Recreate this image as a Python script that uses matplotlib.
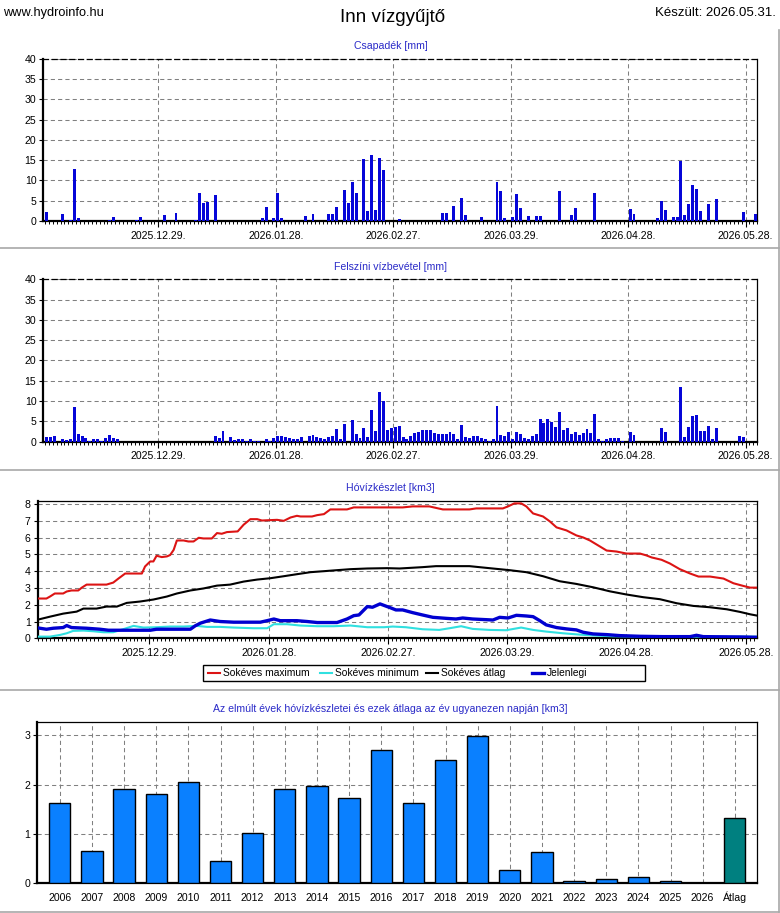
import matplotlib
matplotlib.use('Agg')
import matplotlib.pyplot as plt
import matplotlib.dates as mdates
import numpy as np
from matplotlib.ticker import FixedLocator, MultipleLocator
from matplotlib.patches import Rectangle

plt.rcParams['font.family'] = ['Liberation Sans', 'DejaVu Sans']

# ---------------- data ----------------
bar_start = '2025-11-30'   # first daily bar
precip = [
    2.2, 0, 0, 0, 1.7, 0, 0.2, 12.8, 0.7, 0,
    0, 0, 0, 0, 0, 0, 0.2, 1.0, 0, 0,
    0, 0, 0, 0.2, 1.0, 0, 0, 0, 0, 0,
    1.5, 0, 0, 2.0, 0, 0, 0, 0, 0.2, 6.9,
    4.4, 4.8, 0, 6.4, 0, 0, 0, 0, 0, 0,
    0, 0, 0, 0, 0, 0.7, 3.5, 0, 0.7, 6.9,
    0.7, 0, 0, 0, 0, 0, 1.2, 0, 1.7, 0,
    0, 0, 1.7, 1.7, 3.5, 0, 7.6, 4.4, 9.6, 6.9,
    0, 15.3, 2.5, 16.3, 2.7, 15.5, 12.6, 0, 0, 0,
    0.6, 0, 0, 0, 0, 0, 0, 0, 0, 0,
    0, 2.0, 2.0, 0, 3.7, 0, 5.7, 1.5, 0, 0,
    0, 1.0, 0, 0, 0, 9.6, 7.4, 0.7, 0, 1.0,
    6.7, 3.2, 0, 1.2, 0, 1.2, 1.2, 0, 0, 0,
    0, 7.4, 0, 0, 1.5, 3.2, 0, 0, 0, 0,
    6.9, 0, 0, 0, 0, 0, 0, 0, 0, 3.0,
    1.7, 0, 0, 0, 0, 0, 0.7, 4.9, 2.7, 0,
    1.0, 1.0, 14.8, 1.5, 4.2, 8.9, 7.9, 2.5, 0, 4.2,
    0, 5.4, 0, 0, 0, 0, 0, 0, 2.2, 0,
    0, 1.7,
]
runoff = [
    1.15, 1.15, 1.4, 0, 0.65, 0.4, 0.65, 8.5, 1.9, 1.4,
    0.9, 0.2, 0.65, 0.65, 0.2, 0.9, 1.6, 0.9, 0.65, 0,
    0, 0, 0, 0, 0, 0, 0, 0, 0, 0,
    0, 0, 0, 0, 0, 0, 0, 0, 0, 0,
    0, 0, 0, 1.4, 0.9, 2.6, 0, 1.15, 0.3, 0.65,
    0.65, 0.2, 0.65, 0.2, 0.2, 0, 0.65, 0.2, 0.9, 1.4,
    1.4, 1.15, 0.9, 0.65, 0.65, 1.15, 0, 1.4, 1.6, 1.15,
    0.9, 0.65, 1.15, 1.4, 3.1, 0.65, 4.35, 0, 5.3, 1.9,
    0.9, 3.4, 1.15, 7.8, 2.6, 12.2, 10.0, 2.9, 3.4, 3.6,
    3.9, 1.15, 0.65, 1.4, 2.1, 2.4, 2.9, 2.9, 2.9, 2.1,
    1.9, 1.9, 1.9, 2.4, 1.9, 0.65, 4.1, 1.15, 0.9, 1.4,
    1.4, 0.9, 0.65, 0.2, 0.65, 8.8, 1.6, 1.4, 2.4, 0.65,
    2.4, 1.9, 0.9, 0.65, 1.4, 1.9, 5.6, 4.6, 5.6, 4.85,
    3.6, 7.3, 2.9, 3.4, 1.9, 2.4, 1.6, 2.1, 3.1, 2.1,
    6.8, 0.65, 0.2, 0.65, 0.9, 0.9, 0.9, 0.2, 0, 2.4,
    1.6, 0, 0, 0, 0, 0, 0, 3.4, 2.4, 0,
    0, 0, 13.5, 1.15, 3.6, 6.3, 6.5, 2.6, 2.6, 3.9,
    0.65, 3.4, 0, 0, 0, 0, 0, 1.4, 1.15, 0,
    0, 0,
]

# snow water storage lines: day offsets from line_base and values [km3]
line_base = '2025-12-29'
max_t = [-28.1, -25.9, -25.0, -23.8, -21.7, -20.8, -19.6, -17.9, -17.0, -15.8, -10.8, -9.1,
         -7.8, -6.1, -1.9, -1.1, 0.2, 1.0, 1.8, 3.1, 4.4, 5.2, 6.1, 6.9, 8.6, 9.8, 11.1, 12.4,
         13.6, 15.7, 17.0, 18.2, 19.5, 22.2, 23.7, 25.4, 27.1, 28.3, 32.1, 33.8, 35.5, 37.1,
         38.0, 40.9, 42.2, 43.9, 45.5, 49.7, 51.4, 63.7, 66.2, 70.4, 73.8, 80.5, 82.2, 88.9,
         90.2, 91.8, 93.5, 94.8, 96.5, 99.0, 100.7, 102.4, 104.9, 107.4, 109.1, 110.8, 112.9,
         115.0, 117.5, 120.0, 123.4, 125.0, 126.3, 128.8, 130.9, 133.4, 136.0, 138.1, 141.0,
         144.4, 146.9, 149.4, 151.1, 152.9]
max_v = [2.37, 2.37, 2.49, 2.67, 2.67, 2.79, 2.85, 2.85, 3.02, 3.2, 3.2, 3.32,
         3.56, 3.86, 3.86, 4.28, 4.58, 4.58, 4.92, 4.84, 4.88, 4.96, 5.27, 5.83, 5.83, 5.77, 5.77, 5.99,
         5.95, 5.95, 6.27, 6.23, 6.33, 6.37, 6.77, 7.1, 7.1, 7.02, 7.06, 7.0, 7.2, 7.3,
         7.26, 7.26, 7.34, 7.4, 7.68, 7.68, 7.8, 7.8, 7.86, 7.86, 7.68, 7.68, 7.74, 7.74,
         7.86, 8.04, 8.04, 7.86, 7.44, 7.26, 6.97, 6.61, 6.43, 6.13, 6.01, 5.83, 5.53,
         5.23, 5.17, 5.05, 5.05, 4.94, 4.82, 4.68, 4.46, 4.12, 3.86, 3.68, 3.68,
         3.56, 3.28, 3.12, 3.02, 3.02]

min_t = [-28.1, -25.0, -22.5, -20.8, -19.2, -16.6, -14.1, -11.6, -9.1, -6.6, -4.0, -1.5, 1.8,
         5.2, 8.6, 11.9, 14.5, 17.8, 21.2, 26.2, 29.6, 31.3, 34.6, 38.0, 42.2, 46.4, 50.6,
         54.8, 59.0, 61.2, 64.5, 68.7, 72.9, 75.5, 78.4, 81.3, 85.5, 89.7, 93.5, 96.5, 99.8,
         104.0, 108.2, 112.4, 116.6, 125.0, 141.8, 152.9]
min_v = [0.1, 0.1, 0.2, 0.3, 0.44, 0.46, 0.42, 0.36, 0.36, 0.54, 0.74, 0.64, 0.66,
         0.7, 0.7, 0.74, 0.68, 0.68, 0.64, 0.6, 0.6, 0.84, 0.84, 0.76, 0.72, 0.72, 0.76,
         0.66, 0.66, 0.7, 0.66, 0.54, 0.5, 0.6, 0.72, 0.56, 0.5, 0.48, 0.64, 0.5, 0.4,
         0.3, 0.22, 0.16, 0.12, 0.1, 0.1, 0.1]

avg_t = [-28.1, -25.0, -21.7, -18.3, -16.6, -13.3, -10.8, -8.2, -5.7, -2.4, 1.0, 4.4, 6.9,
         10.3, 13.6, 17.0, 20.3, 23.7, 27.1, 30.4, 33.8, 37.1, 40.5, 43.9, 47.2, 50.6, 54.8,
         59.8, 62.9, 68.7, 72.1, 80.5, 85.5, 90.6, 94.8, 99.0, 103.2, 107.4, 111.6, 115.8,
         120.0, 124.2, 128.4, 132.6, 136.8, 141.0, 145.2, 148.6, 151.1, 152.9]
avg_v = [1.11, 1.29, 1.47, 1.59, 1.77, 1.77, 1.89, 1.89, 2.11, 2.19, 2.31, 2.49, 2.67,
         2.85, 2.97, 3.14, 3.2, 3.38, 3.5, 3.58, 3.7, 3.82, 3.94, 4.0, 4.06, 4.12, 4.16,
         4.18, 4.16, 4.24, 4.3, 4.3, 4.18, 4.06, 3.94, 3.7, 3.4, 3.24, 3.04, 2.8,
         2.61, 2.45, 2.33, 2.09, 1.93, 1.85, 1.73, 1.57, 1.43, 1.35]

cur_t = [-28.1, -25.9, -24.2, -21.7, -20.8, -19.6, -15.8, -12.4, -10.3, 0.2, 1.8, 10.3, 11.5,
         12.8, 15.3, 17.8, 21.2, 27.9, 29.6, 31.3, 32.9, 37.1, 39.7, 42.2, 47.2, 49.7, 51.4,
         52.7, 54.8, 56.1, 58.0, 59.8, 60.3, 62.0, 63.7, 66.2, 68.7, 71.3, 74.6, 77.1, 78.8,
         81.3, 86.4, 88.1, 90.2, 92.3, 94.8, 96.5, 98.2, 99.8, 102.4, 104.9, 107.4, 109.1,
         111.6, 115.0, 118.3, 123.4, 129.2, 136.0, 137.6, 139.3, 148.6, 152.9]
cur_v = [0.62, 0.54, 0.6, 0.64, 0.76, 0.64, 0.6, 0.54, 0.48, 0.48, 0.54, 0.54, 0.74,
         0.9, 1.09, 1.0, 0.96, 0.96, 1.05, 1.15, 1.05, 1.05, 1.0, 0.94, 0.94, 1.15, 1.35,
         1.39, 1.89, 1.85, 2.05, 1.89, 1.85, 1.69, 1.69, 1.53, 1.39, 1.25, 1.19, 1.15, 1.21,
         1.15, 1.09, 1.25, 1.21, 1.37, 1.33, 1.29, 1.05, 0.8, 0.64, 0.56, 0.5, 0.36,
         0.26, 0.22, 0.16, 0.12, 0.1, 0.1, 0.18, 0.1, 0.08, 0.06]

years = ['2006', '2007', '2008', '2009', '2010', '2011', '2012', '2013', '2014', '2015',
         '2016', '2017', '2018', '2019', '2020', '2021', '2022', '2023', '2024', '2025',
         '2026', 'Átlag']
year_vals = [1.62, 0.65, 1.91, 1.82, 2.05, 0.45, 1.03, 1.91, 1.97, 1.74,
             2.70, 1.64, 2.51, 2.98, 0.28, 0.63, 0.04, 0.08, 0.12, 0.04,
             0.0, 1.32]

tick_dates = ['2025-12-29', '2026-01-28', '2026-02-27', '2026-03-29', '2026-04-28', '2026-05-28']

legend_labels = ['Sokéves maximum', 'Sokéves minimum', 'Sokéves átlag', 'Jelenlegi']

# ---------------- styling ----------------
W, H = 780, 913
fig = plt.figure(figsize=(W / 100, H / 100), dpi=100)

BAR_BLUE = '#0606d8'
GRID = dict(color='#808080', linestyle=(0, (4, 3)), linewidth=0.75)
FS = 7.6
TITLE_C = '#2a2ac8'


def px_axes(l, t, r, b):
    return fig.add_axes([l / W, 1 - b / H, (r - l) / W, (b - t) / H])


def style_frame(ax, top_dashed=False):
    ax.spines['left'].set_linewidth(1.6)
    ax.spines['bottom'].set_linewidth(1.6)
    ax.spines['right'].set_linewidth(0.9)
    ax.spines['top'].set_linewidth(0.9)
    if top_dashed:
        ax.spines['top'].set_linestyle((0, (4, 3)))
    ax.tick_params(axis='both', which='both', labelsize=FS, colors='black')
    ax.tick_params(axis='y', which='major', length=3, width=0.8, pad=2)


t0 = mdates.datestr2num(line_base)
tick_nums = [mdates.datestr2num(d) for d in tick_dates]
bar_x = mdates.datestr2num(bar_start) + np.arange(len(precip)) + 0.5


def date_axis(ax, lo, hi):
    ax.set_xlim(t0 + lo, t0 + hi)
    ax.xaxis.set_major_locator(FixedLocator(tick_nums))
    ax.xaxis.set_major_formatter(mdates.DateFormatter('%Y.%m.%d.'))
    ax.xaxis.set_minor_locator(MultipleLocator(1))
    ax.tick_params(axis='x', which='major', length=4, width=0.8, pad=3)
    ax.tick_params(axis='x', which='minor', length=2, width=0.7)


# Panel 1: precipitation
ax1 = px_axes(43.3, 58.7, 757.3, 221)
ax1.bar(bar_x, precip, width=0.75, color=BAR_BLUE, linewidth=0, zorder=3)
ax1.set_ylim(0, 40)
ax1.set_yticks(range(0, 41, 5))
date_axis(ax1, -29.4, 153.0)
ax1.grid(True, which='major', **GRID)
ax1.set_axisbelow(True)
style_frame(ax1, top_dashed=True)

# Panel 2: surface water input
ax2 = px_axes(43.3, 279.3, 757.3, 441.7)
ax2.bar(bar_x, runoff, width=0.75, color=BAR_BLUE, linewidth=0, zorder=3)
ax2.set_ylim(0, 40)
ax2.set_yticks(range(0, 41, 5))
date_axis(ax2, -29.4, 153.0)
ax2.grid(True, which='major', **GRID)
ax2.set_axisbelow(True)
style_frame(ax2, top_dashed=True)

# Panel 3: snow water storage
ax3 = px_axes(37.7, 500.7, 757.3, 638.3)
ax3.plot(t0 + np.array(max_t), max_v, color='#dc1414', lw=1.5, zorder=3)
ax3.plot(t0 + np.array(avg_t), avg_v, color='black', lw=1.5, zorder=3)
ax3.plot(t0 + np.array(min_t), min_v, color='#30e0e0', lw=1.5, zorder=3)
ax3.plot(t0 + np.array(cur_t), cur_v, color='#0000d0', lw=2.4, zorder=4)
ax3.set_ylim(0, 8.2)
ax3.set_yticks(range(0, 9))
date_axis(ax3, -28.1, 152.9)
ax3.grid(True, which='major', **GRID)
ax3.set_axisbelow(True)
style_frame(ax3)

# Panel 4: yearly comparison
ax4 = px_axes(37.3, 721.7, 757.3, 883.3)
xs = np.arange(len(years))
cols = ['#0a80ff'] * (len(years) - 1) + ['#008080']
ax4.bar(xs, year_vals, width=0.66, color=cols, edgecolor='black', linewidth=1.0, zorder=3)
ax4.set_xlim(-0.7, len(years) - 0.3)
ax4.set_ylim(0, 3.28)
ax4.set_yticks([0, 1, 2, 3])
ax4.set_xticks(xs)
ax4.set_xticklabels(years)
ax4.grid(True, which='major', **GRID)
ax4.set_axisbelow(True)
style_frame(ax4)
ax4.tick_params(axis='x', which='major', length=0, pad=12.5)
for lab in ax4.get_xticklabels():
    lab.set_verticalalignment('baseline')

# ---------------- overlay: header, titles, frames, legend ----------------
ov = fig.add_axes([0, 0, 1, 1], zorder=-1)
ov.set_xlim(0, W)
ov.set_ylim(H, 0)
ov.axis('off')

ov.text(3, 13, 'www.hydroinfo.hu', fontsize=9.2, ha='left', va='center')
ov.text(393, 18, 'Inn vízgyűjtő', fontsize=13.5, ha='center', va='center')
ov.text(776, 13, 'Készült: 2026.05.31.', fontsize=9.5, ha='right', va='center')

for y, txt in [(46, 'Csapadék [mm]'),
               (267, 'Felszíni vízbevétel [mm]'),
               (488, 'Hóvízkészlet [km3]'),
               (709, 'Az elmúlt évek hóvízkészletei és ezek átlaga az év ugyanezen napján [km3]')]:
    ov.text(390.5, y, txt, fontsize=FS, color=TITLE_C, ha='center', va='center')

FRAME = dict(color='#a8a8a8', lw=1.2)
for y in [248.5, 470, 690, 912]:
    ov.plot([0, 779], [y, y], **FRAME)
ov.plot([779, 779], [30, 912], **FRAME)

# legend of panel 3
leg_ax = fig.add_axes([0, 0, 1, 1], zorder=5)
leg_ax.set_xlim(0, W)
leg_ax.set_ylim(H, 0)
leg_ax.axis('off')
leg_ax.add_patch(Rectangle((203, 665), 442, 16, facecolor='white', edgecolor='black', lw=1.0))
leg_colors = ['#dc1414', '#30e0e0', 'black', '#0000d0']
leg_widths = [1.5, 1.5, 1.5, 2.4]
leg_x = [208, 320, 426, 532]
for hx, lab, c, lw in zip(leg_x, legend_labels, leg_colors, leg_widths):
    leg_ax.plot([hx, hx + 12], [673, 673], color=c, lw=lw)
    leg_ax.text(hx + 15, 673.5, lab, fontsize=7.4, ha='left', va='center')

fig.savefig('out.png', dpi=100)
